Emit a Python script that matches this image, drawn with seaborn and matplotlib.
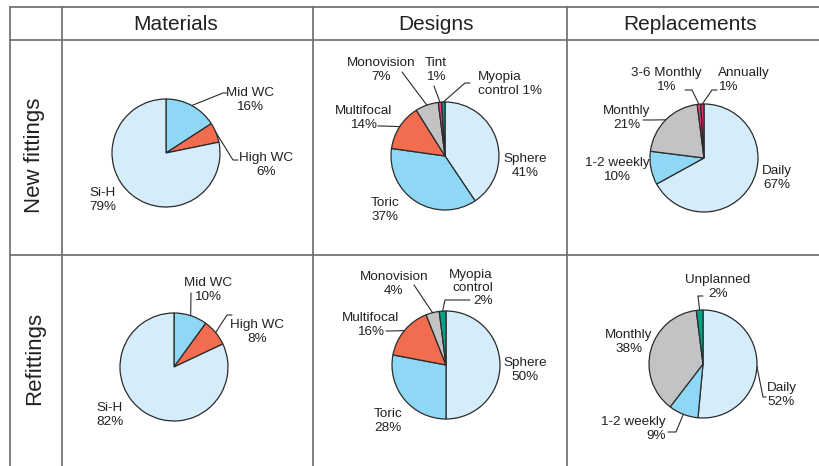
import numpy as np
import matplotlib.pyplot as plt
import seaborn as sns

sns.set_theme(style="white")
plt.rcParams["font.family"] = ["Liberation Sans", "DejaVu Sans"]

# ---- data (clockwise from 12 o'clock) ----
columns = ["Materials", "Designs", "Replacements"]
rows = ["New fittings", "Refittings"]

materials_names = ["Mid WC", "High WC", "Si-H"]
materials_new = [16, 6, 79]
materials_refit = [10, 8, 82]

designs_new_names = ["Sphere", "Toric", "Multifocal", "Monovision", "Tint", "Myopia\ncontrol"]
designs_new = [41, 37, 14, 7, 1, 1]
designs_refit_names = ["Sphere", "Toric", "Multifocal", "Monovision", "Myopia\ncontrol"]
designs_refit = [50, 28, 16, 4, 2]

repl_new_names = ["Daily", "1-2 weekly", "Monthly", "3-6 Monthly", "Annually"]
repl_new = [67, 10, 21, 1, 1]
repl_refit_names = ["Daily", "1-2 weekly", "Monthly", "Unplanned"]
repl_refit = [52, 9, 38, 2]

# ---- styles ----
LIGHT = "#d5edfa"
MID = "#8ed8f6"
ORANGE = "#f26c4f"
GRAY = "#c1c3c5"
PINK = "#e8417c"
RED = "#d6305f"
TEAL = "#03a386"
slice_colors = {
    "Si-H": LIGHT, "Sphere": LIGHT, "Daily": LIGHT,
    "Mid WC": MID, "Toric": MID, "1-2 weekly": MID,
    "High WC": ORANGE, "Multifocal": ORANGE,
    "Monovision": GRAY, "Monthly": GRAY,
    "Tint": PINK, "3-6 Monthly": PINK, "Annually": RED,
    "Myopia\ncontrol": TEAL, "Unplanned": TEAL,
}
EDGE = "#2b2b2b"
GRID = "#6a6a6a"
TXT = "#222222"
W, H = 820, 466
R = 54

# label layout in pixel coords: (x, y, ha, separator, leader points)
lay_mat_new = {
    "Mid WC": (250, 100, "center", "\n", [(223, 93), (227, 93)]),
    "High WC": (266, 165, "center", "\n", [(233, 160), (238, 160)]),
    "Si-H": (103, 200, "center", "\n", None),
}
lay_des_new = {
    "Sphere": (525, 166, "center", "\n", None),
    "Toric": (385, 210, "center", "\n", None),
    "Multifocal": (364, 118, "center", "\n", [(382, 126), (378, 126)]),
    "Monovision": (381, 70, "center", "\n", [(402, 72)]),
    "Tint": (436, 70, "center", "\n", [(434, 86)]),
    "Myopia\ncontrol": (478, 84, "left", " ", [(465, 83), (470, 83)]),
}
lay_rep_new = {
    "Daily": (777, 178, "center", "\n", None),
    "1-2 weekly": (617, 170, "center", "\n", None),
    "Monthly": (627, 118, "center", "\n", [(650, 120), (643, 120)]),
    "3-6 Monthly": (666, 80, "center", "\n", [(692, 90), (685, 90)]),
    "Annually": (718, 80, "left", "\n", [(712, 90), (717, 90)]),
}
lay_mat_ref = {
    "Mid WC": (208, 290, "center", "\n", [(191, 293)]),
    "High WC": (257, 332, "center", "\n", [(227, 315), (232, 315)]),
    "Si-H": (110, 415, "center", "\n", None),
}
lay_des_ref = {
    "Sphere": (525, 370, "center", "\n", None),
    "Toric": (388, 421, "center", "\n", None),
    "Multifocal": (371, 325, "center", "\n", [(390, 331), (386, 331)]),
    "Monovision": (394, 284, "center", "\n", [(414, 285)]),
    "Myopia\ncontrol": (493, 288, "right", "\n", [(445, 300), (470, 300)]),
}
lay_rep_ref = {
    "Daily": (767, 395, "left", "\n", [(763, 397), (766, 397)]),
    "1-2 weekly": (666, 429, "right", "\n", [(676, 432), (668, 432)]),
    "Monthly": (629, 342, "center", "\n", None),
    "Unplanned": (718, 287, "center", "\n", [(698, 296), (703, 296)]),
}

pies = [
    (materials_names, materials_new, (166, 153), lay_mat_new),
    (designs_new_names, designs_new, (445, 156), lay_des_new),
    (repl_new_names, repl_new, (704, 158), lay_rep_new),
    (materials_names, materials_refit, (174, 367), lay_mat_ref),
    (designs_refit_names, designs_refit, (446, 365), lay_des_ref),
    (repl_refit_names, repl_refit, (703, 364), lay_rep_ref),
]

fig = plt.figure(figsize=(W / 100, H / 100), dpi=100)
ax = fig.add_axes([0, 0, 1, 1])

for names, vals, (cx, cy), lay in pies:
    wedges, _ = ax.pie(vals, colors=[slice_colors[n] for n in names],
                       startangle=90, counterclock=False,
                       center=(cx, H - cy), radius=R, frame=True,
                       wedgeprops=dict(edgecolor=EDGE, linewidth=0.9))
    for w, n, v in zip(wedges, names, vals):
        x, y, ha, sep, pts = lay[n]
        ax.text(x, H - y, f"{n}{sep}{v}%", ha=ha, va="center",
                fontsize=9.7, color=TXT, linespacing=1.15)
        if pts:
            a = np.deg2rad((w.theta1 + w.theta2) / 2)
            xs = [cx + R * np.cos(a)] + [p[0] for p in pts]
            ys = [H - cy + R * np.sin(a)] + [H - p[1] for p in pts]
            ax.plot(xs, ys, color=EDGE, lw=0.8)

# table grid
for x in [10, 62, 313, 567]:
    ax.plot([x, x], [H - 7, 0], color=GRID, lw=1.2, clip_on=False)
for y in [7, 40, 255]:
    ax.plot([10, W], [H - y, H - y], color=GRID, lw=1.2, clip_on=False)

for label, x in zip(columns, [176, 436, 690]):
    ax.text(x, H - 24, label, ha="center", va="center", fontsize=15, color=TXT)
for label, y in zip(rows, [155, 358]):
    ax.text(35, H - y, label, ha="center", va="center", rotation=90,
            fontsize=16, color=TXT)

ax.set_xlim(0, W)
ax.set_ylim(0, H)
ax.set_aspect("auto")
ax.axis("off")

fig.savefig("out.png", dpi=100)
